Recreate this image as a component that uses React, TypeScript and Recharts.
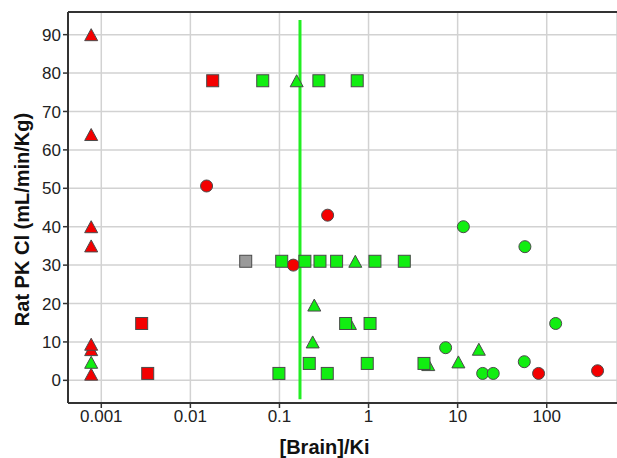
import React from "react";
import {
  ScatterChart,
  Scatter,
  XAxis,
  YAxis,
  CartesianGrid,
  ReferenceLine,
} from "recharts";

// [Brain]/Ki , Rat PK Cl
const redTriangles: [number, number][] = [
  [0.00077, 1.6],
  [0.00077, 8],
  [0.00077, 9.4],
  [0.00077, 35],
  [0.00077, 40],
  [0.00077, 64],
  [0.00077, 90],
];
const greenTriangles: [number, number][] = [
  [0.00077, 4.7],
  [0.156, 78],
  [0.71, 31],
  [0.246, 19.6],
  [0.236, 10],
  [0.618, 14.8],
  [4.68, 4.1],
  [10.2, 4.8],
  [17.3, 8.1],
];
const redCircles: [number, number][] = [
  [0.0152, 50.6],
  [0.347, 43],
  [0.143, 30],
  [81, 1.8],
  [372, 2.5],
];
const greenCircles: [number, number][] = [
  [11.6, 40],
  [56.9, 34.8],
  [126, 14.8],
  [7.33, 8.5],
  [56, 4.85],
  [19.1, 1.8],
  [25.1, 1.8],
];
const redSquares: [number, number][] = [
  [0.0178, 78],
  [0.00284, 14.8],
  [0.00332, 1.8],
];
const greenSquares: [number, number][] = [
  [0.0649, 78],
  [0.277, 78],
  [0.746, 78],
  [0.106, 31],
  [0.193, 31],
  [0.285, 31],
  [0.438, 31],
  [1.18, 31],
  [2.52, 31],
  [0.553, 14.8],
  [1.04, 14.8],
  [0.216, 4.4],
  [0.967, 4.4],
  [4.19, 4.4],
  [0.0986, 1.8],
  [0.344, 1.8],
];
const graySquares: [number, number][] = [[0.0418, 31]];

const xTicks = [0.001, 0.01, 0.1, 1, 10, 100];
const yTicks = [0, 10, 20, 30, 40, 50, 60, 70, 80, 90];
const xDomain: [number, number] = [0.000423, 615];
const yDomain: [number, number] = [-5.9, 95.9];
const thresholdX = 0.17;
const thresholdY: [number, number] = [93.8, -4.9];

const toData = (arr: [number, number][]) => arr.map(([x, y]) => ({ x, y }));

const RED = "#f40000";
const GREEN = "#11ee11";
const GRAY = "#9a9a9a";
const EDGE = "#4a4a4a";

const square = (fill: string) => (props: any) => {
  const { cx, cy } = props;
  return (
    <rect x={cx - 6} y={cy - 6} width={12} height={12} fill={fill} stroke={EDGE} strokeWidth={1} />
  );
};
const circle = (fill: string) => (props: any) => {
  const { cx, cy } = props;
  return <circle cx={cx} cy={cy} r={6} fill={fill} stroke={EDGE} strokeWidth={1} />;
};
const triangle = (fill: string) => (props: any) => {
  const { cx, cy } = props;
  const pts = `${cx},${cy - 6} ${cx + 6.5},${cy + 6} ${cx - 6.5},${cy + 6}`;
  return <polygon points={pts} fill={fill} stroke={EDGE} strokeWidth={1} />;
};

const FONT = "'Liberation Sans', Arial, sans-serif";

export default function App() {
  return (
    <div style={{ position: "absolute", left: 0, top: 0, background: "#fff" }}>
      <ScatterChart
        width={617}
        height={458}
        margin={{ top: 12, right: 0, bottom: 0, left: 0 }}
        style={{ fontFamily: FONT }}
      >
        <CartesianGrid stroke="#d2d2d2" strokeWidth={1.5} />
        <XAxis
          dataKey="x"
          type="number"
          scale="log"
          domain={xDomain}
          allowDataOverflow
          ticks={xTicks}
          tickFormatter={(v: number) => String(v)}
          height={55}
          tickSize={5}
          tick={{ fill: "#222", fontSize: 17, fontFamily: FONT }}
          tickLine={{ stroke: "#333", strokeWidth: 1.5 }}
          axisLine={{ stroke: "#333", strokeWidth: 2 }}
          label={{
            value: "[Brain]/Ki",
            position: "insideBottom",
            offset: 4,
            dx: -18,
            style: { fontSize: 20, fontWeight: "bold", fill: "#111", fontFamily: FONT },
          }}
        />
        <YAxis
          dataKey="y"
          type="number"
          domain={yDomain}
          allowDataOverflow
          ticks={yTicks}
          width={68}
          tickSize={5}
          tick={{ fill: "#222", fontSize: 17, fontFamily: FONT }}
          tickLine={{ stroke: "#333", strokeWidth: 1.5 }}
          axisLine={{ stroke: "#333", strokeWidth: 2 }}
          label={{
            value: "Rat PK Cl (mL/min/Kg)",
            angle: -90,
            position: "center",
            dx: -12,
            dy: 12,
            style: { fontSize: 20, fontWeight: "bold", fill: "#111", fontFamily: FONT },
          }}
        />
        <ReferenceLine y={yDomain[1]} stroke="#333" strokeWidth={2} />
        <Scatter data={toData(redTriangles)} shape={triangle(RED)} isAnimationActive={false} />
        <Scatter data={toData(greenTriangles)} shape={triangle(GREEN)} isAnimationActive={false} />
        <Scatter data={toData(redCircles)} shape={circle(RED)} isAnimationActive={false} />
        <Scatter data={toData(greenCircles)} shape={circle(GREEN)} isAnimationActive={false} />
        <Scatter data={toData(redSquares)} shape={square(RED)} isAnimationActive={false} />
        <Scatter data={toData(greenSquares)} shape={square(GREEN)} isAnimationActive={false} />
        <Scatter data={toData(graySquares)} shape={square(GRAY)} isAnimationActive={false} />
        <ReferenceLine
          segment={[
            { x: thresholdX, y: thresholdY[0] },
            { x: thresholdX, y: thresholdY[1] },
          ]}
          stroke="#22ee22"
          strokeWidth={3}
          ifOverflow="extendDomain"
        />
      </ScatterChart>
    </div>
  );
}
